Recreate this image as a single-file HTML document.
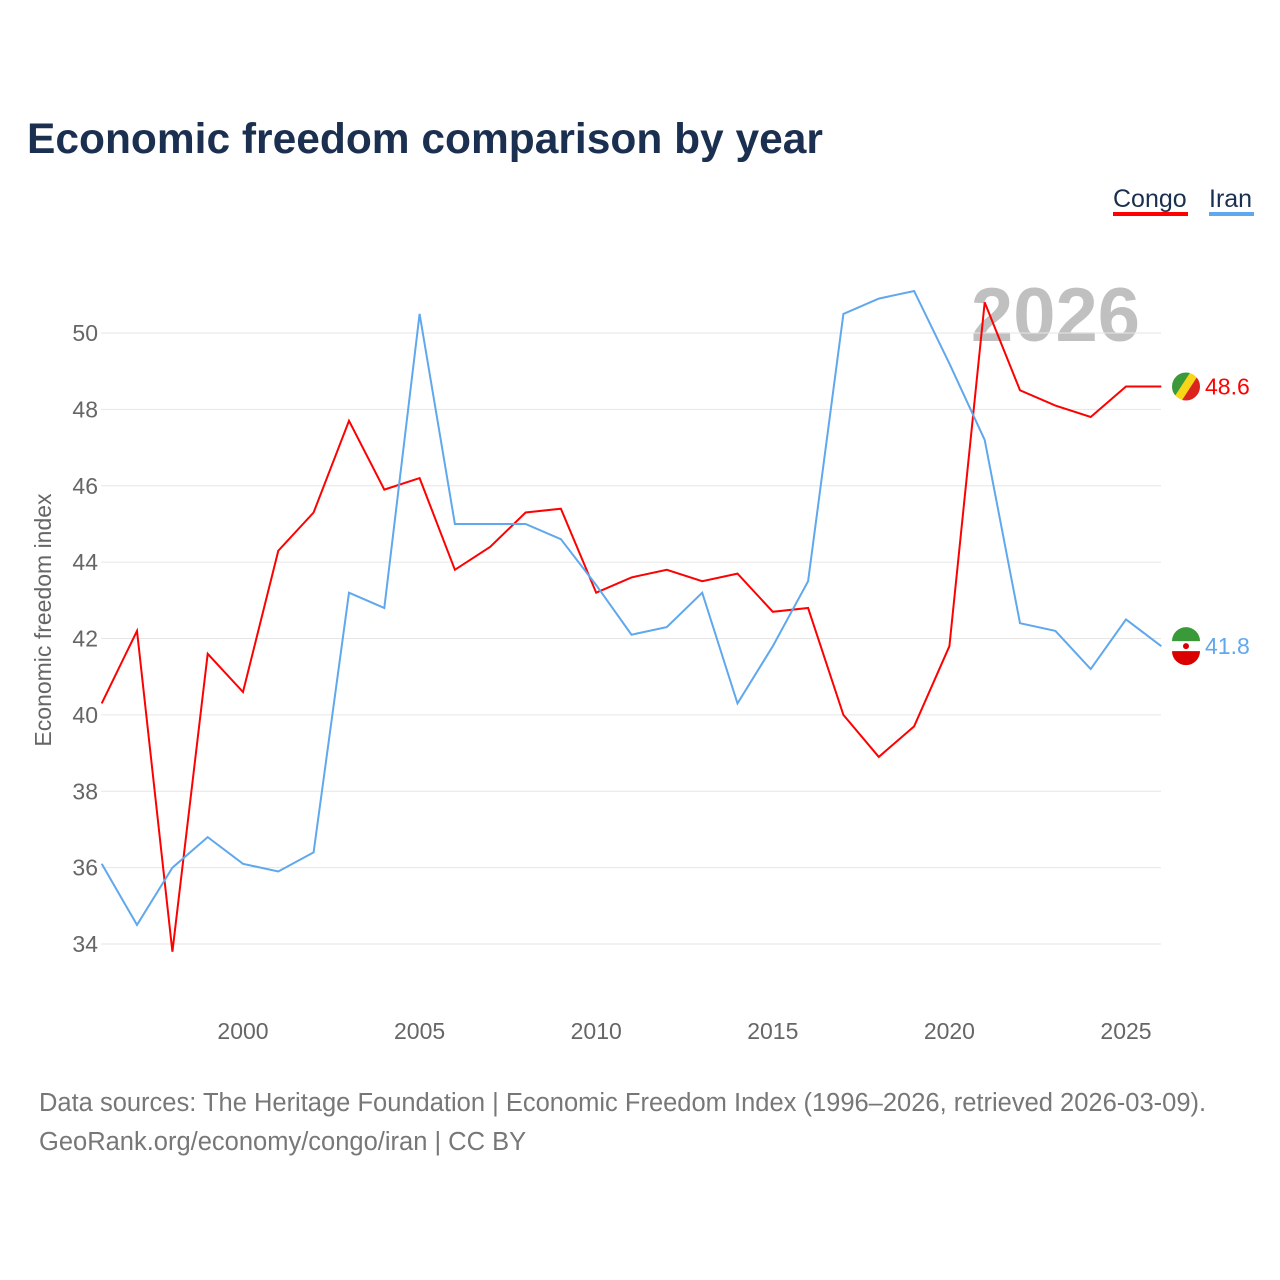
<!DOCTYPE html>
<html><head><meta charset="utf-8">
<style>
body{margin:0;background:#fff;font-family:"Liberation Sans",sans-serif;}
#wrap{position:relative;width:1280px;height:1280px;overflow:hidden;}
</style></head>
<body>
<div id="wrap">
<svg id="chart" width="1280" height="1280" xmlns="http://www.w3.org/2000/svg">
<defs>
<clipPath id="cc"><circle cx="1186" cy="0" r="14"/></clipPath>
</defs>
<text x="27" y="153" font-size="42.5" font-weight="bold" fill="#1b3050" font-family="Liberation Sans, sans-serif">Economic freedom comparison by year</text>
<g>
<text x="1113" y="207" font-size="25" fill="#1b3050">Congo</text>
<rect x="1113" y="212" width="75" height="4" fill="#ff0000"/>
<text x="1209" y="207" font-size="25" fill="#1b3050">Iran</text>
<rect x="1209" y="212" width="45" height="4" fill="#5fa8ee"/>
</g>
<text x="1140" y="341" font-size="76" font-weight="bold" fill="#c0c0c0" text-anchor="end">2026</text>
<g id="grid"></g><g id="yticks"></g><g id="xticks"></g><g id="lines"></g>
<text transform="translate(51,620) rotate(-90)" font-size="23" fill="#666" text-anchor="middle">Economic freedom index</text>
<text x="39" y="1111" font-size="25.5" fill="#777">Data sources: The Heritage Foundation | Economic Freedom Index (1996–2026, retrieved 2026-03-09).</text>
<text x="39" y="1150" font-size="25.5" fill="#777">GeoRank.org/economy/congo/iran | CC BY</text>
</svg>
</div>
<script>
const years=[1996,1997,1998,1999,2000,2001,2002,2003,2004,2005,2006,2007,2008,2009,2010,2011,2012,2013,2014,2015,2016,2017,2018,2019,2020,2021,2022,2023,2024,2025,2026];
const congo=[40.3,42.2,33.8,41.6,40.6,44.3,45.3,47.7,45.9,46.2,43.8,44.4,45.3,45.4,43.2,43.6,43.8,43.5,43.7,42.7,42.8,40.0,38.9,39.7,41.8,50.8,48.5,48.1,47.8,48.6,48.6];
const iran=[36.1,34.5,36.0,36.8,36.1,35.9,36.4,43.2,42.8,50.5,45.0,45.0,45.0,44.6,43.4,42.1,42.3,43.2,40.3,41.8,43.5,50.5,50.9,51.1,49.2,47.2,42.4,42.2,41.2,42.5,41.8];
const yTicks=[34,36,38,40,42,44,46,48,50];
const xTicks=[2000,2005,2010,2015,2020,2025];
const NS="http://www.w3.org/2000/svg";
const X=y=>243+(y-2000)*35.32;
const Y=v=>333+(50-v)*38.19;
function mk(tag,attrs,parent){const e=document.createElementNS(NS,tag);for(const k in attrs)e.setAttribute(k,attrs[k]);parent.appendChild(e);return e;}
const grid=document.getElementById('grid'),yt=document.getElementById('yticks'),xt=document.getElementById('xticks'),ln=document.getElementById('lines');
yTicks.forEach(v=>{
 const l=mk('line',{x1:101,x2:1161,y1:Y(v),y2:Y(v),stroke:'#e6e6e6','stroke-width':1},grid);
 
 
 const t=mk('text',{x:98,y:Y(v)+8,'font-size':23,fill:'#666','text-anchor':'end'},yt);
 t.textContent=v;
 
 
});
xTicks.forEach(v=>{
 const t=mk('text',{x:X(v),y:1039,'font-size':23,fill:'#666','text-anchor':'middle'},xt);
 t.textContent=v;
 
 
});
function flag(cy,name){
 const g=mk('g',{},ln);
 
 
 const cx=1186,r=14;
 if(name==='congo'){
  mk('circle',{cx:cx,cy:cy,r:r,fill:'#f7d618'},g);
  mk('path',{d:`M${cx-r},${cy+r} L${cx-r},${cy-r} L${cx+r*0.3},${cy-r} Z`,fill:'#3a9a3a'},g);
  mk('path',{d:`M${cx+r},${cy-r} L${cx+r},${cy+r} L${cx-r*0.3},${cy+r} Z`,fill:'#dc241f'},g);
  mk('circle',{cx:cx,cy:cy,r:r+3,fill:'none',stroke:'#fff','stroke-width':6},g);
 } else {
  mk('circle',{cx:cx,cy:cy,r:r,fill:'#fff'},g);
  mk('path',{d:`M${cx-r},${cy-5} A${r},${r} 0 0 1 ${cx+r},${cy-5} Z`,fill:'#3a9a3a'},g);
  mk('path',{d:`M${cx-r},${cy+5} A${r},${r} 0 0 0 ${cx+r},${cy+5} Z`,fill:'#da0000'},g);
  mk('circle',{cx:cx,cy:cy,r:3,fill:'#da0000'},g);
 }
}
function series(vals,color,name){
 const d=vals.map((v,i)=>(i?'L':'M')+X(years[i]).toFixed(1)+','+Y(v).toFixed(1)).join(' ');
 const p=mk('path',{d:d,fill:'none',stroke:color,'stroke-width':2},ln);
 
 
 const last=vals[vals.length-1];
 flag(Y(last),name);
 const t=mk('text',{x:1205,y:Y(last)+8,'font-size':23,fill:color},ln);
 t.textContent=last.toFixed(1);
 
 
}
series(congo,'#ff0000','congo');
series(iran,'#5fa8ee','iran');
</script>
</body></html>
